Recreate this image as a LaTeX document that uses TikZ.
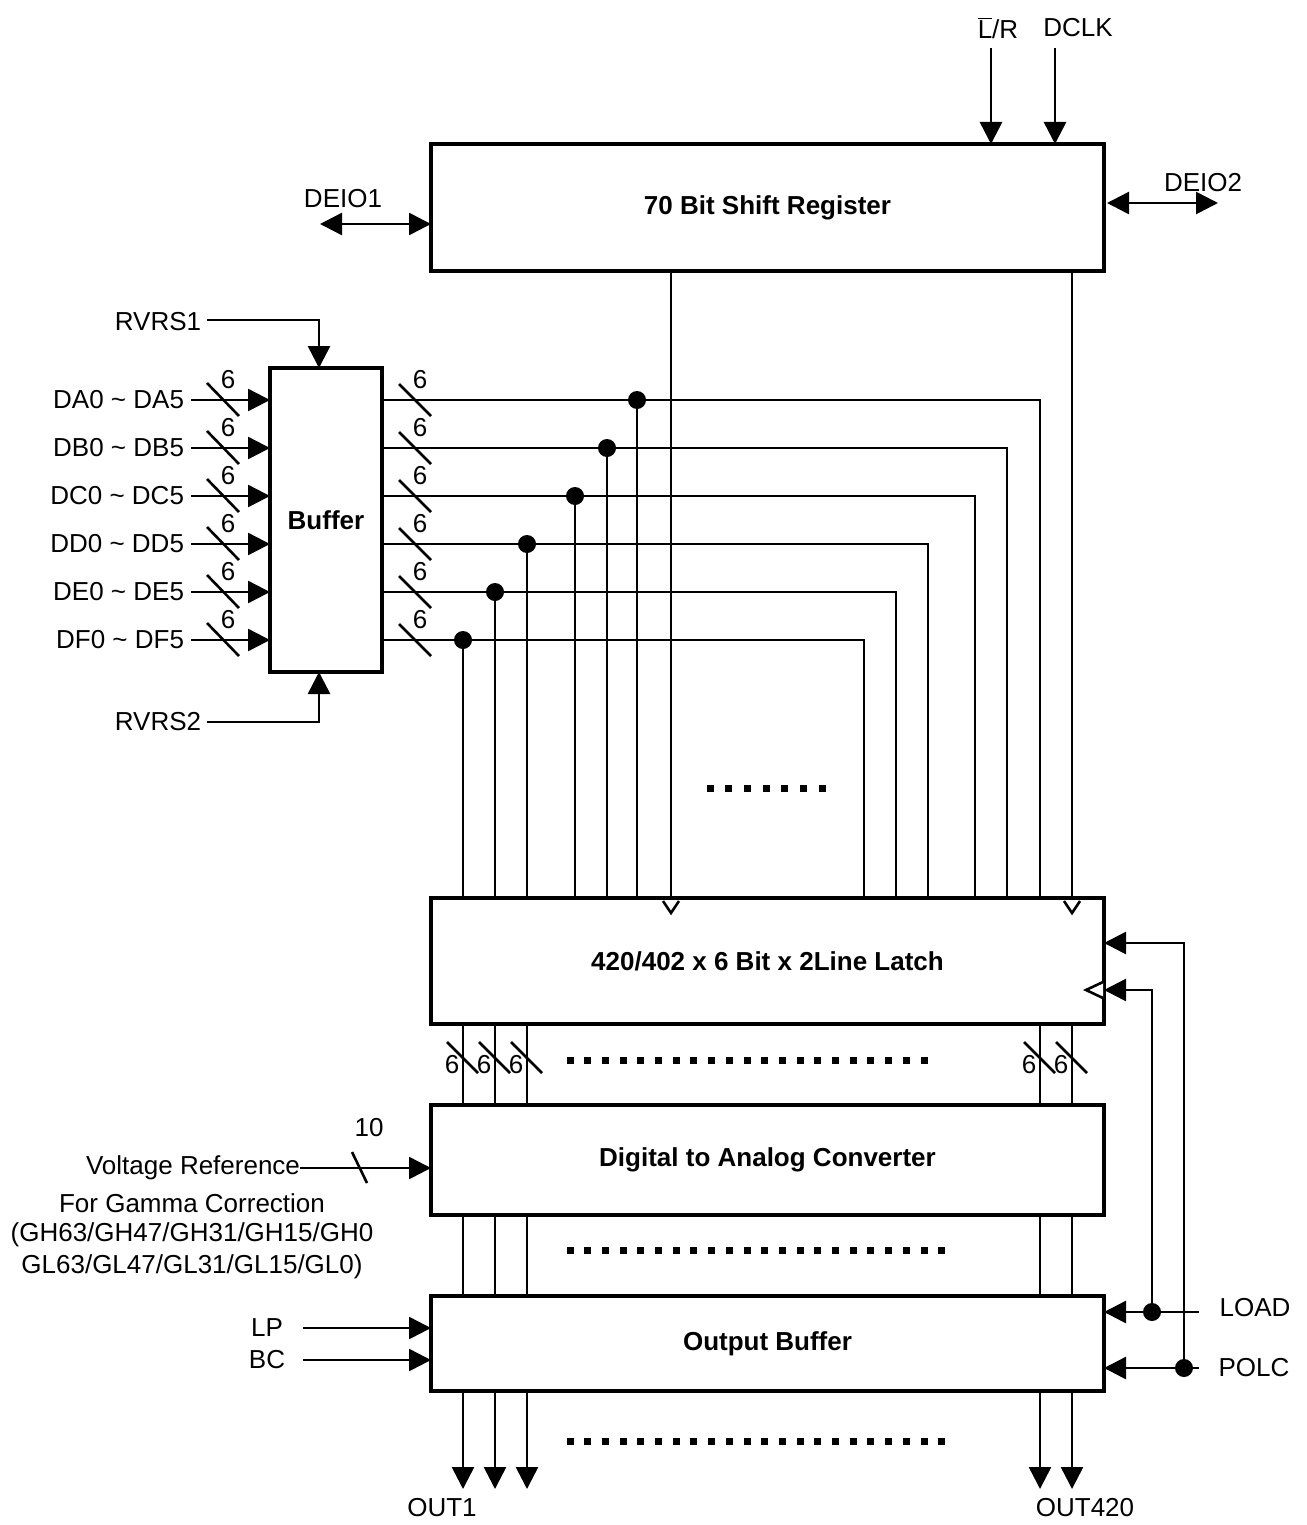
\documentclass[tikz,border=0pt]{standalone}
\usepackage{fontspec}
\setmainfont{Liberation Sans}
\usetikzlibrary{arrows.meta,calc}
\begin{document}
\begin{tikzpicture}[x=0.5pt,y=-0.5pt,
  every node/.style={font=\fontsize{13}{15}\selectfont, inner sep=0pt, outer sep=0pt},
  blk/.style={draw, line width=2pt, font=\fontsize{13}{15}\selectfont\bfseries, inner sep=0pt, outer sep=0pt, minimum width=336.5pt},
  sig/.style={line width=1.3pt},
  arr/.style={sig, -{Triangle[length=11pt,width=11pt]}},
  darr/.style={sig, {Triangle[length=11pt,width=11pt]}-{Triangle[length=11pt,width=11pt]}},
  jdot/.style={circle, fill, minimum size=9pt, inner sep=0pt},
  slashln/.style={line width=1.3pt},
  opentri/.style={line width=1.3pt, line join=miter, fill=white}]

\useasboundingbox (0,0) rectangle (1306,1525);

% ---------------- blocks
\node[blk, minimum height=63.5pt] (sr) at (767.5,207.5) {70 Bit Shift Register};
\node[blk, minimum width=56pt, minimum height=152pt] (buf) at (326,520) {Buffer};
\node[blk, minimum height=63pt] (lat) at (767.5,961) {420/402 x 6 Bit x 2Line Latch};
\node[blk, minimum height=55pt] (dac) at (767.5,1160) {Digital to Analog Converter};
\node[blk, minimum height=47.5pt] (ob) at (767.5,1343.5) {Output Buffer};

% ---------------- top inputs
\node (lrl) at (998,28) {$\overline{\hbox{L}}$/R};
\node (dclkl) at (1078,28) {DCLK};
\coordinate (lrt) at (991,48);
\coordinate (dclkt) at (1055,48);
\draw[arr] (lrt) -- (lrt |- sr.north);
\draw[arr] (dclkt) -- (dclkt |- sr.north);

% DEIO1 / DEIO2
\node (deio1) at (343,199) {DEIO1};
\coordinate (d1) at (320,224);
\draw[darr] (d1) -- (d1 -| sr.west);
\node (deio2) at (1203,183) {DEIO2};
\coordinate (d2) at (1218,203);
\draw[darr] ($(d2 -| sr.east)+(3,0)$) -- (d2);

% shift register outputs to latch
\coordinate (s1) at (671,0);
\coordinate (s2) at (1072,0);
\draw[sig] (sr.south -| s1) -- (lat.north -| s1);
\draw[sig] (sr.south -| s2) -- (lat.north -| s2);
\draw[opentri] (663,901) -- (671,913) -- (679,901);
\draw[opentri] (1064,901) -- (1072,913) -- (1080,901);

% ---------------- RVRS
\node (rv1) at (158,322) {RVRS1};
\coordinate (rv1s) at (207,320);
\coordinate (rv1c) at (319,320);
\draw[arr] (rv1s) -- (rv1c) -- (rv1c |- buf.north);
\node (rv2) at (158,722) {RVRS2};
\coordinate (rv2s) at (207,722);
\coordinate (rv2c) at (319,722);
\draw[arr] (rv2s) -- (rv2c) -- (rv2c |- buf.south);

% ---------------- buffer inputs and outputs
\foreach \y/\n/\d/\e in {400/A/637/1040,448/B/607/1007,496/C/575/975,544/D/527/928,592/E/495/896,640/F/463/864}{
  \node[anchor=east] (in\n) at (184,\y) {D\n0 \textasciitilde{} D\n5};
  \coordinate (s\n) at (191,\y);
  \draw[arr] (s\n) -- (s\n -| buf.west);
  \draw[slashln] (207,\y-17) -- (239,\y+16);
  \node (ni\n) at (228,\y-20) {6};
  \coordinate (o\n) at (\e,\y);
  \coordinate (j\n) at (\d,\y);
  \draw[sig] (o\n -| buf.east) -- (o\n) -- (o\n |- lat.north);
  \draw[slashln] (399,\y-16) -- (431,\y+16);
  \node (no\n) at (420,\y-20) {6};
  \draw[sig] (j\n) -- (j\n |- lat.north);
  \node[jdot] (jd\n) at (j\n) {};
}

% ellipsis between buses
\foreach \i in {0,...,6}{
  \fill (706.5+\i*18.7,784.5) rectangle ++(7,7);
}

% ---------------- latch -> DAC
\foreach \x in {463,495,527,1040,1072}{
  \coordinate (lx\x) at (\x,0);
  \draw[sig] (lat.south -| lx\x) -- (dac.north -| lx\x);
  \draw[slashln] (\x-16,1042) -- (\x+15,1073);
  \node (six\x) at (\x-11,1065) {6};
  \draw[sig] (dac.south -| lx\x) -- (ob.north -| lx\x);
  \coordinate (ot\x) at (\x,1489);
  \draw[arr] (ob.south -| lx\x) -- (ot\x);
}
\foreach \i in {0,...,20}{
  \fill (566.5+\i*17.7,1056.5) rectangle ++(7,7);
}
\foreach \i in {0,...,21}{
  \fill (566.5+\i*17.7,1246.5) rectangle ++(7,7);
  \fill (566.5+\i*17.7,1437.5) rectangle ++(7,7);
}

\node (out1) at (442,1508) {OUT1};
\node (out420) at (1085,1508) {OUT420};

% ---------------- voltage reference
\node[anchor=east] (vr) at (300,1168) {Voltage Reference};
\draw[arr] (vr.east) -- (vr.east -| dac.west);
\draw[slashln] (352,1152) -- (367,1183);
\node (ten) at (369,1128) {10};
\node (vr2) at (192,1203) {For Gamma Correction};
\node (vr3) at (192,1235) {(GH63/GH47/GH31/GH15/GH0};
\node (vr4) at (192,1267) {GL63/GL47/GL31/GL15/GL0)};

% ---------------- LP / BC
\node (lp) at (267,1328) {LP};
\coordinate (lps) at (303,1328);
\draw[arr] (lps) -- (lps -| ob.west);
\node (bc) at (267,1360) {BC};
\coordinate (bcs) at (303,1360);
\draw[arr] (bcs) -- (bcs -| ob.west);

% ---------------- LOAD / POLC
\node (load) at (1255,1308) {LOAD};
\node (polc) at (1254,1368) {POLC};
\coordinate (lde) at (1199,1312);
\coordinate (ple) at (1199,1368);
\coordinate (jl) at (1152,1312);
\coordinate (jp) at (1184,1368);
\draw[arr] (lde) -- (lde -| ob.east);
\draw[arr] (ple) -- (ple -| ob.east);
\draw[arr] (jl) |- ([yshift=-14.5pt]lat.east);
\draw[arr] (jp) |- ([yshift=9pt]lat.east);
\node[jdot] (jld) at (jl) {};
\node[jdot] (jpd) at (jp) {};
\draw[opentri] (1103,982) -- (1086,990) -- (1103,998);

\end{tikzpicture}
\end{document}
